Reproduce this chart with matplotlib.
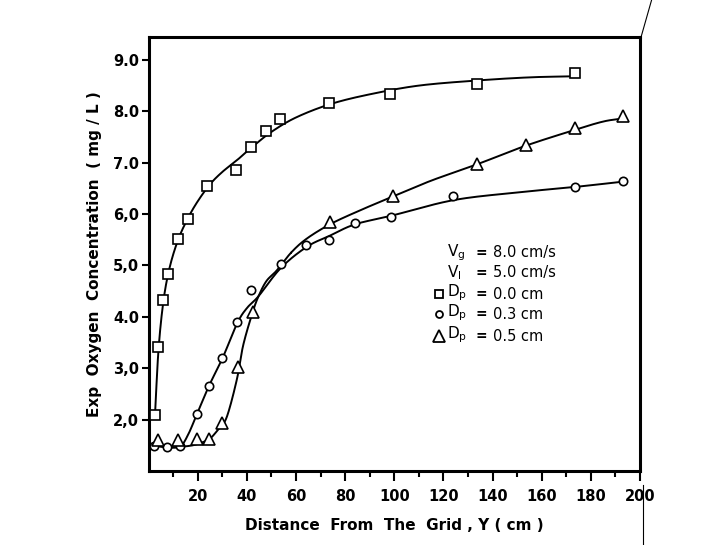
import numpy as np
import matplotlib
matplotlib.use("Agg")
import matplotlib.pyplot as plt
from matplotlib.lines import Line2D

plt.rcParams['font.family'] = ['DejaVu Sans']
plt.rcParams['mathtext.default'] = 'regular'

# measured points, Dp = 0.0 cm (squares)
sq_x = [2.6, 4.0, 6.0, 8.0, 11.8, 15.9, 23.8, 35.4, 41.5, 47.6, 53.5, 73.5, 98.2, 133.5, 173.6]
sq_y = [2.09, 3.42, 4.32, 4.83, 5.52, 5.91, 6.54, 6.86, 7.30, 7.62, 7.84, 8.16, 8.34, 8.53, 8.75]

# Dp = 0.3 cm (circles)
ci_x = [2.2, 7.4, 12.9, 19.6, 24.6, 29.9, 36.0, 41.5, 53.8, 63.9, 73.5, 84.0, 98.7, 124.0, 173.6, 193.2]
ci_y = [1.49, 1.46, 1.48, 2.10, 2.66, 3.20, 3.89, 4.52, 5.02, 5.39, 5.49, 5.83, 5.95, 6.35, 6.53, 6.65]

# Dp = 0.5 cm (triangles)
tr_x = [4.0, 12.1, 19.6, 24.7, 30.0, 36.3, 42.6, 73.8, 99.3, 133.8, 153.5, 173.6, 193.2]
tr_y = [1.61, 1.61, 1.63, 1.63, 1.94, 3.03, 4.10, 5.85, 6.36, 6.97, 7.35, 7.68, 7.90]

# hand drawn fitted curves
sq_cx = [2.6, 4.0, 6.0, 8.5, 12, 16, 20, 25, 30, 36, 42, 50, 60, 74, 90, 110, 134, 155, 172]
sq_cy = [2.1, 3.35, 4.3, 4.95, 5.5, 5.92, 6.25, 6.58, 6.82, 7.05, 7.3, 7.6, 7.88, 8.14, 8.33, 8.5, 8.6, 8.66, 8.68]

ci_cx = [2.0, 7.5, 12.8, 16, 19.6, 24.7, 30.2, 36.1, 40, 44.7, 53.8, 64.3, 73.8, 84, 99, 124, 150, 174, 193]
ci_cy = [1.5, 1.46, 1.48, 1.7, 2.1, 2.67, 3.21, 3.88, 4.17, 4.4, 4.95, 5.36, 5.58, 5.8, 5.97, 6.27, 6.42, 6.53, 6.63]

tr_cx = [2.0, 8, 12.8, 18, 22, 25, 28.5, 31.8, 35.9, 38.5, 42.4, 44.9, 48, 52.1, 58, 64.3, 73.8, 85, 99.3, 115, 133.8, 153.5, 173.6, 185, 193]
tr_cy = [1.5, 1.46, 1.47, 1.5, 1.56, 1.63, 1.82, 2.05, 2.78, 3.45, 4.1, 4.42, 4.7, 4.9, 5.25, 5.52, 5.8, 6.05, 6.34, 6.65, 6.97, 7.33, 7.64, 7.8, 7.86]

yticks = [2, 3, 4, 5, 6, 7, 8, 9]
ytick_labels = ['2,0', '3,0', '4.0', '5,0', '6,0', '7.0', '8.0', '9.0']
xticks = [20, 40, 60, 80, 100, 120, 140, 160, 180, 200]


def smooth(xs, ys, n=25, yscale=20.9):
    # catmull-rom through the knots, done in roughly isotropic space
    pts = np.column_stack([np.asarray(xs, float), np.asarray(ys, float) * yscale])
    p = np.vstack([2 * pts[0] - pts[1], pts, 2 * pts[-1] - pts[-2]])
    t = np.linspace(0, 1, n)[:, None]
    out = []
    for i in range(1, len(p) - 2):
        p0, p1, p2, p3 = p[i - 1], p[i], p[i + 1], p[i + 2]
        seg = 0.5 * (2 * p1 + (-p0 + p2) * t + (2 * p0 - 5 * p1 + 4 * p2 - p3) * t ** 2
                     + (-p0 + 3 * p1 - 3 * p2 + p3) * t ** 3)
        out.append(seg)
    out = np.vstack(out)
    return out[:, 0], out[:, 1] / yscale


fig = plt.figure(figsize=(7.24, 5.45), dpi=100)
ax = fig.add_axes([0.2053, 0.1358, 0.6787, 0.7958])

for cx, cy in [(sq_cx, sq_cy), (ci_cx, ci_cy), (tr_cx, tr_cy)]:
    sx, sy = smooth(cx, cy)
    ax.plot(sx, sy, color='black', lw=1.4, zorder=2)

ax.plot(sq_x, sq_y, 's', ms=7, mfc='white', mec='black', mew=1.2, zorder=3)
ax.plot(ci_x, ci_y, 'o', ms=6, mfc='white', mec='black', mew=1.2, zorder=3)
ax.plot(tr_x, tr_y, '^', ms=9, mfc='white', mec='black', mew=1.2, zorder=3)

ax.set_xlim(0, 200)
ax.set_ylim(1.0, 9.44)
ax.set_xticks(xticks)
ax.set_xticks(np.arange(10, 200, 20), minor=True)
ax.set_yticks(yticks)
ax.set_yticklabels(ytick_labels)
ax.tick_params(axis='x', which='major', direction='out', length=7, width=1.5, labelsize=10.5, pad=6)
ax.tick_params(axis='x', which='minor', direction='out', length=4, width=1.5)
ax.tick_params(axis='y', direction='out', length=5, width=1.5, labelsize=10.5, pad=2)
for lab in ax.get_xticklabels() + ax.get_yticklabels():
    lab.set_fontweight('bold')
for s in ax.spines.values():
    s.set_linewidth(2.2)

ax.set_xlabel('Distance  From  The  Grid , Y ( cm )', fontsize=11, fontweight='bold', labelpad=10)
ax.set_ylabel('Exp  Oxygen  Concentration  ( mg / L )', fontsize=11, fontweight='bold', labelpad=8)

# legend block drawn as text
tx = ax.transAxes
ax.text(0.607, 0.503, '$V_g$', transform=tx, fontsize=11, va='center')
ax.text(0.607, 0.457, '$V_l$', transform=tx, fontsize=11, va='center')
ax.text(0.677, 0.503, '=', transform=tx, fontsize=10, va='center', ha='center', fontweight='bold')
ax.text(0.677, 0.457, '=', transform=tx, fontsize=10, va='center', ha='center', fontweight='bold')
ax.text(0.70, 0.503, '8.0 cm/s', transform=tx, fontsize=10.5, va='center')
ax.text(0.70, 0.457, '5.0 cm/s', transform=tx, fontsize=10.5, va='center')

rows = [(0.408, 's', 6, '0.0 cm'), (0.361, 'o', 5, '0.3 cm'), (0.311, '^', 8, '0.5 cm')]
for fy, mk, ms, val in rows:
    ax.plot([0.591], [fy], mk, ms=ms, mfc='white', mec='black', mew=1.3, transform=tx, clip_on=False)
    ax.text(0.607, fy + 0.004, '$D_p$', transform=tx, fontsize=11, va='center')
    ax.text(0.677, fy, '=', transform=tx, fontsize=10, va='center', ha='center', fontweight='bold')
    ax.text(0.70, fy, val, transform=tx, fontsize=10.5, va='center')

# stray scan lines at the right edge
fig.add_artist(Line2D([0.888, 0.888], [0.11, 0.0], color='black', lw=0.8, transform=fig.transFigure))
fig.add_artist(Line2D([0.885, 0.900], [0.93, 1.0], color='black', lw=0.8, transform=fig.transFigure))

fig.savefig('out.png', dpi=100)
